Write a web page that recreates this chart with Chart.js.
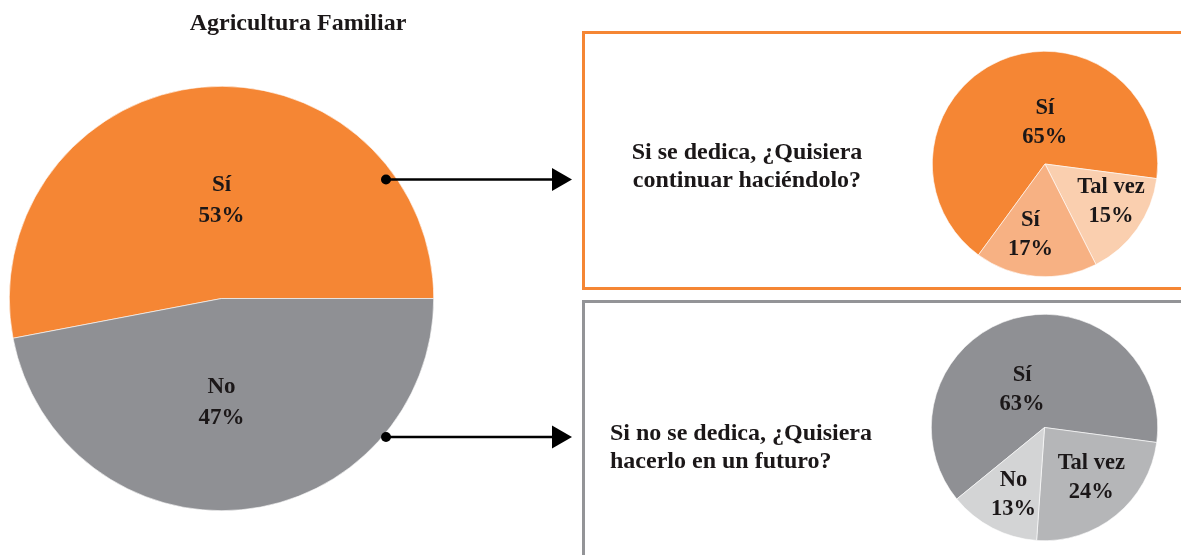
<!DOCTYPE html>
<html><head><meta charset="utf-8">
<script src="https://cdn.jsdelivr.net/npm/chart.js@4.4.1/dist/chart.umd.min.js"></script>
<style>
html,body{margin:0;padding:0;background:#fff;width:1181px;height:555px;overflow:hidden;position:relative;font-family:"Liberation Serif","DejaVu Serif",serif;}
.pie{position:absolute;}
.txt{position:absolute;font-weight:bold;color:#1b1718;font-size:24px;line-height:28px;white-space:nowrap;}
svg{position:absolute;left:0;top:0;pointer-events:none;}
</style></head><body>
<div class="pie" style="left:9px;top:86px;width:425px;height:425px"><canvas id="main"></canvas></div>
<div class="pie" style="left:932px;top:51px;width:226px;height:226px"><canvas id="sub1"></canvas></div>
<div class="pie" style="left:931px;top:314px;width:227px;height:227px"><canvas id="sub2"></canvas></div>

<svg width="1181" height="555">
  <rect x="583.5" y="32.5" width="640" height="256" fill="none" stroke="#F58634" stroke-width="3"/>
  <rect x="583.5" y="301.5" width="640" height="300" fill="none" stroke="#939497" stroke-width="3"/>
  <circle cx="386" cy="179.5" r="5" fill="#000"/>
  <line x1="386" y1="179.5" x2="556" y2="179.5" stroke="#000" stroke-width="2.5"/>
  <polygon points="552,168 572,179.5 552,191" fill="#000"/>
  <circle cx="386" cy="437" r="5" fill="#000"/>
  <line x1="386" y1="437" x2="556" y2="437" stroke="#000" stroke-width="2.5"/>
  <polygon points="552,425.5 572,437 552,448.5" fill="#000"/>
</svg>

<div class="txt" style="left:148px;top:8px;width:300px;text-align:center;">Agricultura Familiar</div>
<div class="txt" style="left:597px;top:137px;width:300px;text-align:center;">Si se dedica, ¿Quisiera<br>continuar haciéndolo?</div>
<div class="txt" style="left:610px;top:418px;">Si no se dedica, ¿Quisiera<br>hacerlo en un futuro?</div>

<script>
// ---- Data ----
const mainLabels = ["Sí", "No"];
const mainValues = [53, 47];
const mainColors = ["#F58634", "#8F9094"];

const sub1Labels = ["Sí", "Tal vez", "Sí"];
const sub1Values = [65, 15, 17];
const sub1Colors = ["#F58634", "#FACFAF", "#F7B183"];

const sub2Labels = ["Sí", "Tal vez", "No"];
const sub2Values = [63, 24, 13];
const sub2Colors = ["#8F9094", "#B5B6B8", "#D3D4D5"];

const sliceLabels = {
  id: 'sliceLabels',
  afterDatasetsDraw(chart, args, opts) {
    const ctx = chart.ctx;
    const meta = chart.getDatasetMeta(0);
    ctx.save();
    ctx.font = opts.font;
    ctx.fillStyle = '#1b1718';
    ctx.textAlign = 'center';
    ctx.textBaseline = 'middle';
    meta.data.forEach((arc, i) => {
      const p = arc.getCenterPoint();
      const off = (opts.offsets && opts.offsets[i]) || [0, 0];
      const x = p.x + off[0], y = p.y + off[1];
      const lh = opts.lineHeight;
      ctx.fillText(chart.data.labels[i], x, y - lh / 2);
      ctx.fillText(chart.data.datasets[0].data[i] + '%', x, y + lh / 2);
    });
    ctx.restore();
  }
};

function makePie(id, labels, values, colors, rotation, offsets, fontSize, lineHeight) {
  return new Chart(document.getElementById(id), {
    type: 'pie',
    data: { labels: labels, datasets: [{ data: values, backgroundColor: colors, borderWidth: 0.6, borderColor: '#ffffff', hoverOffset: 0 }] },
    options: {
      responsive: true, maintainAspectRatio: false, animation: false,
      rotation: rotation,
      layout: { padding: 0 },
      plugins: {
        legend: { display: false }, tooltip: { enabled: false },
        sliceLabels: { font: 'bold ' + fontSize + 'px "Liberation Serif", serif', lineHeight: lineHeight, offsets: offsets }
      }
    },
    plugins: [sliceLabels]
  });
}

makePie('main', mainLabels, mainValues, mainColors, 259.2, [[10, 8], [-10, -2]], 23, 31);
makePie('sub1', sub1Labels, sub1Values, sub1Colors, 216.2, [[22, 10], [20, 5], [-10, 15]], 22.5, 29);
makePie('sub2', sub2Labels, sub2Values, sub2Colors, 230.8, [[-7, 17], [11, 6], [-5, 17]], 22.5, 29);
</script>
</body></html>
